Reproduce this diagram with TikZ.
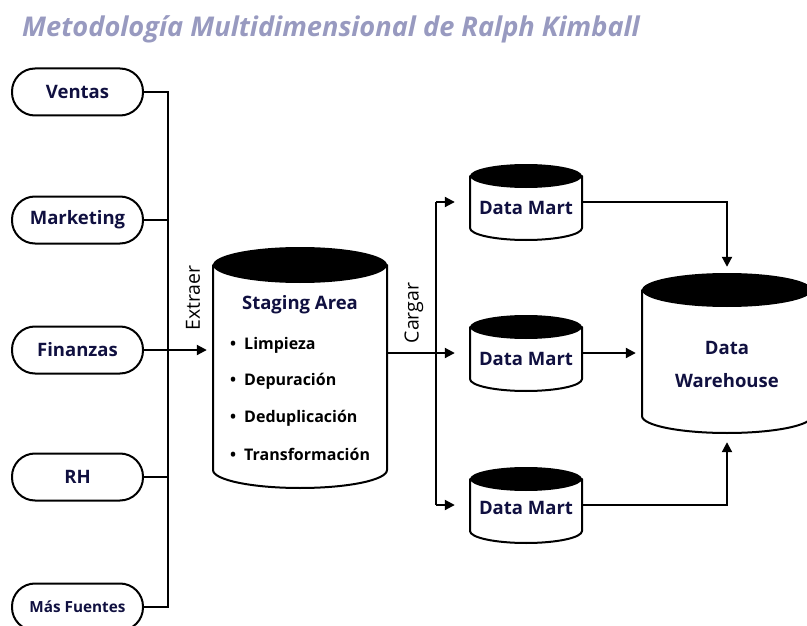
\documentclass[tikz,border=0pt]{standalone}
\usepackage{fontspec}
\setmainfont{Open Sans}
\usetikzlibrary{arrows.meta,calc}
\definecolor{navy}{RGB}{16,16,64}
\definecolor{titlecol}{RGB}{152,154,192}
\newcommand{\drawcyl}[6]{%
  \path[cylline] ({#2-#5},{#3+#6}) -- ({#2-#5},{#4-#6})
     arc[start angle=180,end angle=360,x radius=#5pt,y radius=#6pt]
     -- ({#2+#5},{#3+#6}) -- cycle;
  \fill[black] (#2,{#3+#6}) ellipse[x radius=#5pt,y radius=#6pt];
  \node[cylbox,minimum width={2*#5*1pt},minimum height={(#4-#3)*1pt}] (#1) at (#2,{(#3+#4)/2}) {};
}
\tikzset{
  pill/.style={draw,line width=2pt,rounded corners=23pt,minimum width=131pt,minimum height=47pt,
    inner sep=0pt,font=\fontsize{18.5}{22}\selectfont\bfseries,text=navy},
  cylline/.style={draw,fill=white,line width=2pt,line join=round},
  cylbox/.style={draw=none,inner sep=0pt},
  lbl/.style={font=\fontsize{18.5}{22}\selectfont\bfseries,text=navy,inner sep=0pt},
  item/.style={font=\fontsize{16}{19}\selectfont\bfseries,text=black,inner sep=0pt,anchor=west},
  conn/.style={line width=2pt},
  arr/.style={line width=2pt,-{Triangle[length=10pt,width=10pt]}},
  vlbl/.style={font=\fontsize{19.5}{22}\selectfont,rotate=90,inner sep=0pt}
}
\begin{document}
\begin{tikzpicture}[x=1pt,y=-1pt]
\useasboundingbox (0,0) rectangle (807,626);
% title
\node[anchor=base west,inner sep=0pt,text=titlecol,font=\fontsize{27.2}{30}\selectfont\bfseries\itshape] (title) at (22,37) {Metodología Multidimensional de Ralph Kimball};
% sources
\node[pill] (ventas) at (77.5,92) {Ventas};
\node[pill] (marketing) at (77.5,220) {Marketing};
\node[pill] (finanzas) at (77.5,350) {Finanzas};
\node[pill] (rh) at (77.5,477) {RH};
\node[pill,font=\fontsize{15.3}{18}\selectfont\bfseries] (masf) at (77.5,607) {Más Fuentes};
% cylinders
\drawcyl{staging}{300}{247}{488}{87}{18}
\drawcyl{dm1}{526}{164}{240}{56}{12}
\drawcyl{dm2}{526}{315}{391}{56}{12}
\drawcyl{dm3}{526}{467}{543}{56}{12}
\drawcyl{dw}{727}{273}{433}{85}{17}
% texts
\node[lbl] (sttitle) at (300,305) {Staging Area};
\node[item] (i1) at (230,345) {•\hspace{8pt}Limpieza};
\node[item] (i2) at (230,381) {•\hspace{8pt}Depuración};
\node[item] (i3) at (230,418) {•\hspace{8pt}Deduplicación};
\node[item] (i4) at (230,454) {•\hspace{8pt}Transformación};
\node[lbl] (t1) at (526,208) {Data Mart};
\node[lbl] (t2) at (526,359) {Data Mart};
\node[lbl] (t3) at (526,508) {Data Mart};
\node[lbl,align=center] (tdw) at (727,364) {Data\\[11pt]Warehouse};
\node[vlbl] (extraer) at (193,298) {Extraer};
\node[vlbl] (cargar) at (414,313) {Cargar};
% bus coordinates
\coordinate (xbus) at (168,0);
\coordinate (xbus2) at (436,0);
% extraction connectors
\draw[conn] (ventas.east) -- (ventas.east -| xbus) -- (masf.east -| xbus) -- (masf.east);
\draw[conn] (marketing.east) -- (marketing.east -| xbus);
\draw[conn] (rh.east) -- (rh.east -| xbus);
\draw[arr,shorten >=6pt] (finanzas.east) -- (finanzas.east -| staging.west);
% load connectors
\draw[arr,shorten >=15pt] (staging.east |- dm2.west) -- (dm2.west);
\draw[conn] (xbus2 |- dm1.west) -- (xbus2 |- dm3.west);
\draw[arr,shorten >=15pt] (xbus2 |- dm1.west) -- (dm1.west);
\draw[arr,shorten >=15pt] (xbus2 |- dm3.west) -- (dm3.west);
% to warehouse
\draw[arr,shorten >=6pt] (dm1.east) -| (dw.north);
\draw[arr,shorten >=6pt] (dm2.east) -- (dm2.east -| dw.west);
\draw[arr,shorten >=9pt] (dm3.east) -| (dw.south);
\end{tikzpicture}
\end{document}
